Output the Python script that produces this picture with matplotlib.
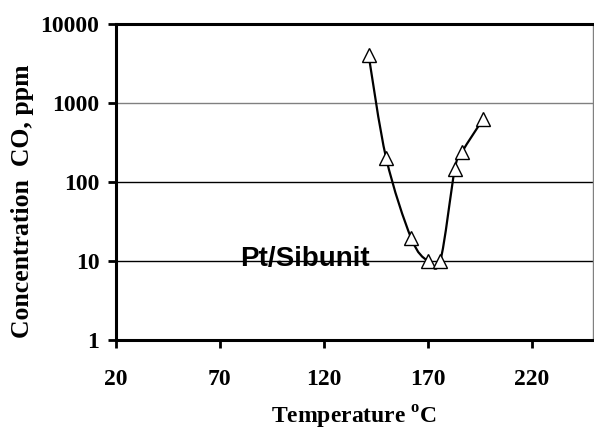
import numpy as np
import matplotlib
matplotlib.use("Agg")
import matplotlib.pyplot as plt
from matplotlib.path import Path
from matplotlib.patches import PathPatch
from matplotlib.ticker import FixedLocator, FixedFormatter, NullLocator

# data
temperature = [141.5, 150, 162, 170, 176, 183, 186.5, 196.5]
co_ppm = [4100, 200, 19.5, 10, 10, 145, 240, 620]

x_ticks = [20, 70, 120, 170, 220]
y_ticks = [1, 10, 100, 1000, 10000]
y_tick_labels = ["1", "10", "100", "1000", "10000"]
grid_levels = [10, 100, 1000]
grid_colors = ["black", "black", "#808080"]

serif = "Liberation Serif"
sans = "Liberation Sans"
plt.rcParams["mathtext.fontset"] = "custom"
plt.rcParams["mathtext.rm"] = "Liberation Serif:bold"
plt.rcParams["mathtext.bf"] = "Liberation Serif:bold"

fig = plt.figure(figsize=(5.94, 4.34), dpi=100)
ax = fig.add_axes([116 / 594, 94 / 434, 477 / 594, 316 / 434])
ax.set_yscale("log")
ax.set_xlim(20, 249.5)
ax.set_ylim(1, 10000)

# horizontal grid lines
for lev, col in zip(grid_levels, grid_colors):
    ax.axhline(lev, color=col, lw=1.0, zorder=1)

# smoothed line (Catmull-Rom in x / log10(y) space, drawn as bezier path)
xs = np.array(temperature, dtype=float)
ls = np.log10(np.array(co_ppm, dtype=float))
pts = np.column_stack([xs, ls])
verts = [pts[0]]
codes = [Path.MOVETO]
n = len(pts)
for i in range(n - 1):
    p0 = pts[i - 1] if i > 0 else pts[i]
    p1 = pts[i]
    p2 = pts[i + 1]
    p3 = pts[i + 2] if i + 2 < n else pts[i + 1]
    c1 = p1 + (p2 - p0) / 6.0
    c2 = p2 - (p3 - p1) / 6.0
    verts += [c1, c2, p2]
    codes += [Path.CURVE4] * 3
verts = np.array(verts)
verts[:, 1] = 10 ** verts[:, 1]
ax.add_patch(PathPatch(Path(verts, codes), facecolor="none", edgecolor="black",
                       lw=1.6, zorder=3))

ax.plot(temperature, co_ppm, linestyle="none", marker="^", ms=10,
        markerfacecolor="white", markeredgecolor="black", mew=1.0, zorder=4)

ax.text(111, 10.6, "Pt/Sibunit", family=sans, fontweight="bold", fontsize=20,
        ha="center", va="center", zorder=5)

# axes styling
ax.yaxis.set_major_locator(FixedLocator(y_ticks))
ax.yaxis.set_major_formatter(FixedFormatter(y_tick_labels))
ax.yaxis.set_minor_locator(NullLocator())
ax.set_xticks(x_ticks)
ax.tick_params(axis="both", direction="out", length=6, width=2, colors="black",
               labelsize=17, pad=6)
for lab in ax.get_xticklabels() + ax.get_yticklabels():
    lab.set_family(serif)
    lab.set_fontweight("bold")
ax.tick_params(axis="x", pad=15)

for side in ["left", "bottom", "top"]:
    ax.spines[side].set_linewidth(2.2)
    ax.spines[side].set_color("black")
ax.spines["right"].set_linewidth(1.0)
ax.spines["right"].set_color("#808080")

ax.set_ylabel("Concentration  CO, ppm", family=serif,
              fontweight="bold", fontsize=18.5)
ax.yaxis.set_label_coords(-0.172, 0.44)
ax.set_xlabel(r"Temperature $^{\rm o}$C", family=serif, fontweight="bold",
              fontsize=17, labelpad=10)

fig.savefig("out.png", dpi=100)
